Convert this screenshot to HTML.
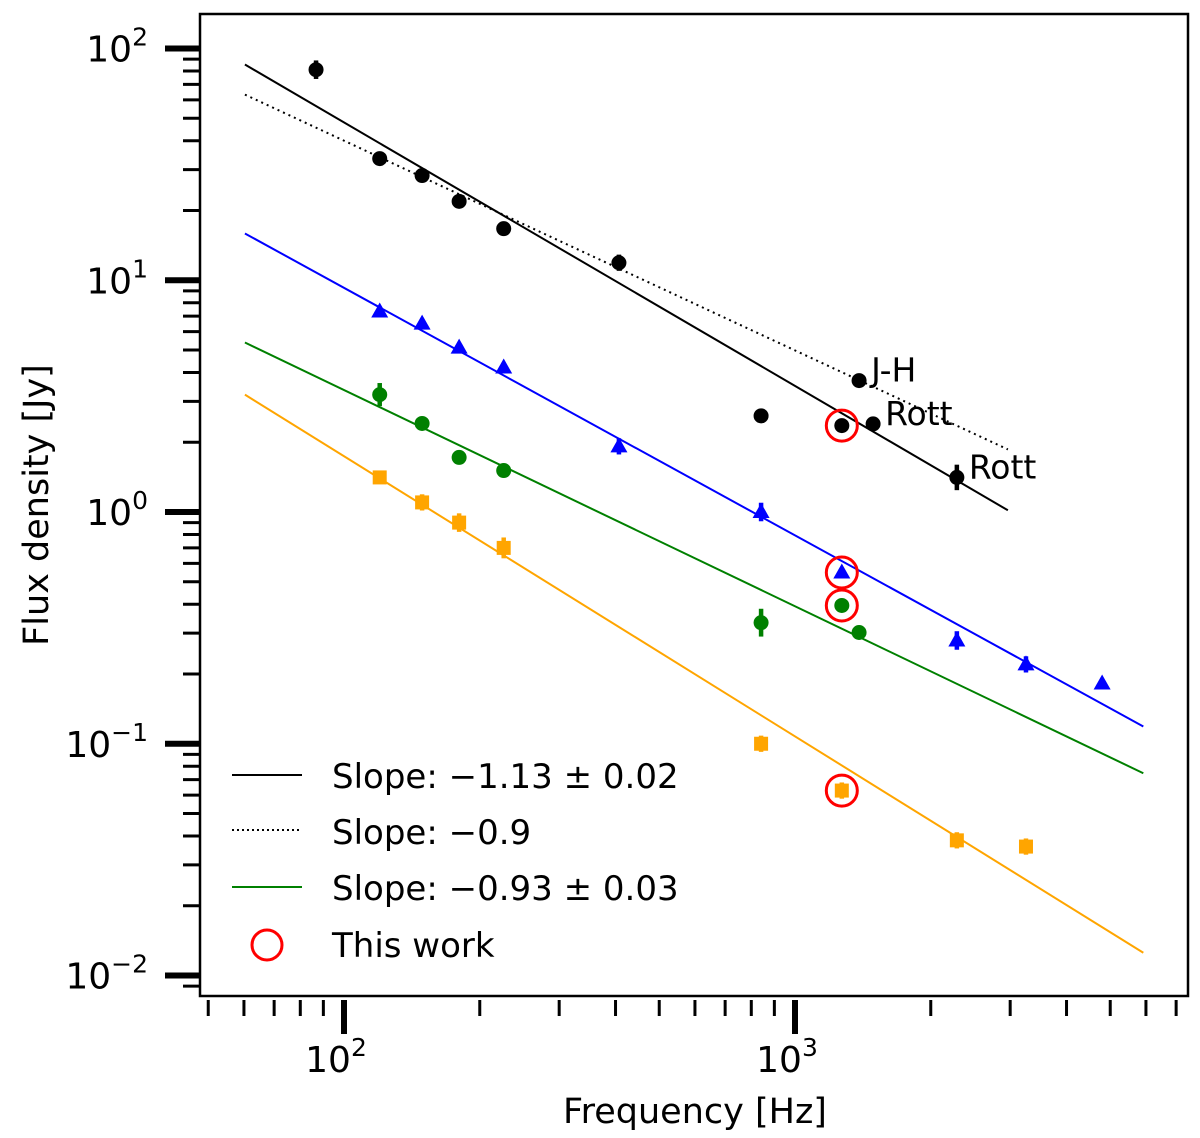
<!DOCTYPE html>
<html><head><meta charset="utf-8"><style>
body{margin:0;background:#fff}
svg text{font-family:"DejaVu Sans","Liberation Sans",sans-serif;fill:#000}
</style></head><body>
<svg id="chart" width="1200" height="1133" xmlns="http://www.w3.org/2000/svg">
</svg>
<script>
// ---- data ----
const blackFreq = [86.7, 120, 149, 180, 226, 407, 841, 1270, 1387, 1490, 2285];
const blackFlux = [81, 33.5, 28.3, 21.9, 16.7, 11.9, 2.6, 2.36, 3.69, 2.4, 1.41];
const blackErr  = [0.04, 0.01, 0.01, 0.01, 0.01, 0.035, 0.02, 0.01, 0.02, 0.02, 0.055];
const blueFreq = [120, 149, 180, 226, 407, 841, 1270, 2285, 3252, 4797];
const blueFlux = [7.33, 6.5, 5.12, 4.2, 1.92, 1.0, 0.548, 0.279, 0.22, 0.182];
const blueErr  = [0.02, 0.02, 0.02, 0.01, 0.035, 0.04, 0.01, 0.04, 0.035, 0.01];
const greenFreq = [120, 149, 180, 226, 841, 1270, 1387];
const greenFlux = [3.21, 2.41, 1.72, 1.51, 0.333, 0.395, 0.302];
const greenErr  = [0.05, 0.01, 0.01, 0.01, 0.06, 0.01, 0.01];
const orangeFreq = [120, 149, 180, 226, 841, 1270, 2285, 3252];
const orangeFlux = [1.41, 1.10, 0.90, 0.70, 0.10, 0.0628, 0.0383, 0.036];
const orangeErr  = [0.02, 0.035, 0.04, 0.045, 0.035, 0.035, 0.035, 0.035];
const thisWorkFreq = [1270, 1270, 1270, 1270];
const thisWorkFlux = [2.36, 0.548, 0.395, 0.0628];
// fits: [fmin, fmax, flux at 1 kHz, slope]
const fitBlack  = [60.3, 2965, 3.5, -1.137];
const fitDotted = [60.3, 2965, 4.98, -0.905];
const fitBlue   = [60.3, 5920, 0.793, -1.068];
const fitGreen  = [60.3, 5920, 0.392, -0.933];
const fitOrange = [60.3, 5920, 0.1076, -1.209];
const annotations = [["J-H", 1387, 3.69], ["Rott", 1490, 2.4], ["Rott", 2285, 1.41]];
const xTickExp = [2, 3];
const yTickExp = [2, 1, 0, -1, -2];

// ---- axes ----
const X0 = 344, XD = 451, Y0 = 512, YD = 231.75;
const L = 200, R = 1188, T = 14, B = 996;
const sx = f => X0 + (Math.log10(f) - 2) * XD;
const sy = v => Y0 - Math.log10(v) * YD;
const NS = "http://www.w3.org/2000/svg";
const svg = document.getElementById('chart');
function mk(tag, attrs, parent) {
  const e = document.createElementNS(NS, tag);
  for (const k in attrs) e.setAttribute(k, attrs[k]);
  (parent || svg).appendChild(e);
  return e;
}

const defs = mk('defs', {});
const cp = mk('clipPath', {id: 'clip'}, defs);
mk('rect', {x: L, y: T, width: R - L, height: B - T}, cp);
const plot = mk('g', {'clip-path': 'url(#clip)'});



function fit(p, color, name, dash) {
  const [f1, f2, a, s] = p;
  const v = f => a * Math.pow(f / 1000, s);
  const ln = mk('line', {x1: sx(f1), y1: sy(v(f1)), x2: sx(f2), y2: sy(v(f2)), stroke: color, 'stroke-width': 2}, plot);
  if (dash) ln.setAttribute('stroke-dasharray', '2,4');
  
  
}
fit(fitBlack, '#000', 'fit-line-black');
fit(fitDotted, '#000', 'fit-line-dotted', true);
fit(fitBlue, '#0000ff', 'fit-line-blue');
fit(fitGreen, '#008000', 'fit-line-green');
fit(fitOrange, '#ffa500', 'fit-line-orange');

function series(fr, fl, er, color, shape, name) {
  const g = mk('g', {}, plot);
  
  
  fr.forEach((f, i) => {
    const x = sx(f), y = sy(fl[i]);
    const e = er[i];
    mk('line', {x1: x, x2: x, y1: sy(fl[i] * Math.pow(10, e)), y2: sy(fl[i] / Math.pow(10, e)), stroke: color, 'stroke-width': 4.5}, g);
    let m;
    if (shape === 'circle') m = mk('circle', {cx: x, cy: y, r: 7.5, fill: color}, g);
    else if (shape === 'tri') m = mk('polygon', {points: `${x},${y - 9} ${x - 8.5},${y + 6} ${x + 8.5},${y + 6}`, fill: color}, g);
    else m = mk('rect', {x: x - 7, y: y - 7, width: 14, height: 14, fill: color}, g);
    
    
  });
}
series(blackFreq, blackFlux, blackErr, '#000', 'circle', 'black-series');
series(blueFreq, blueFlux, blueErr, '#0000ff', 'tri', 'blue-series');
series(greenFreq, greenFlux, greenErr, '#008000', 'circle', 'green-series');
series(orangeFreq, orangeFlux, orangeErr, '#ffa500', 'square', 'orange-series');
thisWorkFreq.forEach((f, i) => {
  const c = mk('circle', {cx: sx(f), cy: sy(thisWorkFlux[i]), r: 15.5, fill: 'none', stroke: '#ff0000', 'stroke-width': 3}, plot);
  
  
});
annotations.forEach(a => {
  const t = mk('text', {x: sx(a[1]) + 12, y: sy(a[2]) + 1, 'font-size': 33}, svg);
  t.textContent = a[0];
  
  
});

const fr = mk('rect', {x: L, y: T, width: R - L, height: B - T, fill: 'none', stroke: '#000', 'stroke-width': 2.5});



for (let e = -3; e <= 2; e++) for (let m = 1; m <= 9; m++) {
  const y = sy(m * Math.pow(10, e));
  if (y < T || y > B) continue;
  const major = m === 1;
  mk('line', {x1: major ? 165 : 183, x2: L, y1: y, y2: y, stroke: '#000', 'stroke-width': major ? 6 : 3});
}
yTickExp.forEach(e => {
  const y = sy(Math.pow(10, e));
  const t = mk('text', {x: 148, y: y + 13, 'text-anchor': 'end', 'font-size': 36});
  t.innerHTML = '10<tspan dy="-16" font-size="25">' + (e < 0 ? '\u2212' + (-e) : e) + '</tspan>';
  
  
});
for (let e = 1; e <= 3; e++) for (let m = 1; m <= 9; m++) {
  const x = sx(m * Math.pow(10, e));
  if (x < L || x > R) continue;
  const major = m === 1;
  mk('line', {x1: x, x2: x, y1: B + 4, y2: major ? B + 38 : B + 20, stroke: '#000', 'stroke-width': major ? 6 : 3});
}
xTickExp.forEach(e => {
  const x = sx(Math.pow(10, e));
  const t = mk('text', {x: x - 8, y: 1072, 'text-anchor': 'middle', 'font-size': 36});
  t.innerHTML = '10<tspan dy="-16" font-size="25">' + e + '</tspan>';
  
  
});
</script>
<svg style="position:absolute;left:0;top:0" width="1200" height="1133" xmlns="http://www.w3.org/2000/svg">
<text x="695" y="1123" text-anchor="middle" font-size="35">Frequency [Hz]</text>
<text transform="translate(48,505) rotate(-90)" text-anchor="middle" font-size="35">Flux density [Jy]</text>
<g font-size="34">
<line x1="232" x2="302" y1="775" y2="775" stroke="#000" stroke-width="2"/>
<text x="332" y="788">Slope: −1.13 ± 0.02</text>
<line x1="232" x2="302" y1="830" y2="830" stroke="#000" stroke-width="2" stroke-dasharray="2,3"/>
<text x="332" y="844">Slope: −0.9</text>
<line x1="232" x2="302" y1="887" y2="887" stroke="#008000" stroke-width="2"/>
<text x="332" y="900">Slope: −0.93 ± 0.03</text>
<circle cx="267" cy="945" r="15" fill="none" stroke="#ff0000" stroke-width="3"/>
<text x="332" y="957">This work</text>
</g>
</svg>
</body></html>
